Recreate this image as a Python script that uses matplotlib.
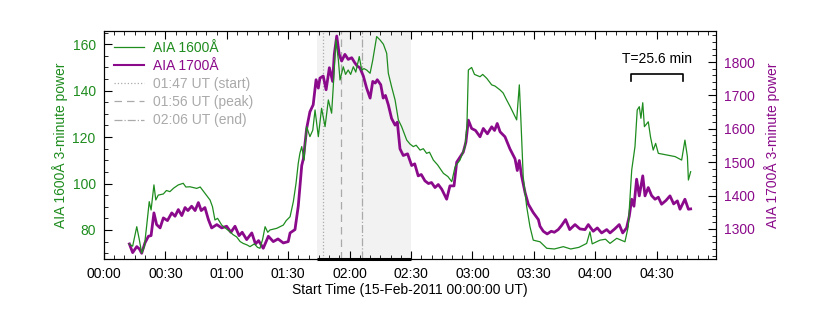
import matplotlib
matplotlib.use("Agg")
import matplotlib.pyplot as plt
from matplotlib.ticker import MultipleLocator, FuncFormatter
from matplotlib.lines import Line2D

plt.rcParams['font.family'] = ['Liberation Sans', 'DejaVu Sans']
plt.rcParams['font.size'] = 10

GREEN = '#1e8c1e'
PURPLE = '#8b0a8b'
GRAY = '#aaaaaa'

# minutes after 15-Feb-2011 00:00 UT
t1600 = [12.4, 14, 16, 17.3, 18.4, 19.7, 20.8, 22.1, 23, 24.4, 25.3, 26.5, 29, 30.5,
         32.2, 34, 36.3, 38.7, 40, 42, 45.3, 47, 49.3, 51.8, 53, 54.2, 55.5, 57.5,
         59, 61.6, 63, 64.8, 66.5, 68, 70, 71.3, 73.5, 75, 76.2, 77.5, 78.7, 80,
         81.1, 84.4, 87.6, 89, 90.9, 92.5, 93.8, 94.9, 95.7, 96.6, 97.7, 99, 100.6,
         102, 103.1, 104.7, 106.3, 108, 109.6, 111.2, 112, 113.3, 114.5, 115.3,
         116.9, 118, 119.3, 120.5, 121.8, 123, 124.7, 125.9, 127, 128.3, 130, 131.3,
         133.2, 134.8, 136.5, 138.1, 138.9, 140.5, 142.2, 143.8, 145.4, 146.5,
         147.9, 149.5, 151.1, 152.5, 154.4, 156, 157.6, 159, 160.9, 163, 165.8,
         168, 169.9, 171.5, 173.9, 176.4, 177.3, 178, 179.6, 181, 183.7, 185, 187,
         189.4, 191, 193.5, 195, 196.7, 198.5, 200, 201.6, 202.9, 203.6, 204.8,
         206.5, 208.1, 209.7, 213, 216.3, 220, 224.4, 228, 232, 235.8, 237.4,
         238.5, 242.3, 245, 247.2, 250.5, 254.5, 256.1, 257.8, 259.4, 260.5, 261.5,
         262.3, 263.2, 264, 265.9, 267, 268.3, 269.5, 270.8, 274.9, 279, 282.2,
         283.8, 285, 285.5, 286.6]
p1600 = [73.9, 73, 81.4, 75.6, 70, 72.8, 81.4, 92.2, 88.6, 99.4, 92.9, 95, 95.5, 97,
         96.5, 98, 99.4, 100.1, 98.5, 98.6, 97.9, 98.5, 95.8, 92.9, 90, 84.3, 85, 82.1,
         81, 79.2, 78, 77, 75, 74.2, 73.5, 72.8, 74, 72.5, 72.1, 76, 81.4, 79,
         80, 80.7, 82.1, 84, 85.7, 92.2, 100, 108.7, 113, 115.9, 110.1, 124.5, 120.2,
         123, 131.7, 120.2, 132.4, 124.5, 136, 130.3, 141.7, 161.9, 153.2, 144.6,
         150.3, 147, 148.9, 147, 150.3, 148, 154.7, 148.9, 149.5, 148.9, 147.5, 153.2,
         163.3, 161.9, 160, 156.1, 147.5, 141.7, 136, 127.4, 124.5, 122,
         118.7, 117, 115.9, 116.5, 114.4, 115, 113, 113.5, 110.1, 108, 104.4,
         103, 100.8, 107.2, 110.1, 115.9, 125, 148.9, 150, 147, 146, 147, 145.3,
         142.5, 142, 140.3, 139, 136, 133, 130.3, 127.4, 142.5, 128.8, 102.9,
         90, 81.4, 75.6, 74.9, 72.1, 71.8, 72.8, 71.8, 72.5, 74.2, 79.2,
         74, 75.6, 76, 74.2, 76.4, 74.9, 81.4, 105.8, 115.9, 131.7, 133.1,
         128.1, 134.8, 124.5, 126.6, 120, 114.4, 117.3, 113, 112.3, 111.6, 110.1,
         118.7, 111.6, 101.5, 105.1]

t1700 = [12.4, 14, 16, 17.3, 18.4, 20, 21.7, 23, 24.4, 25.7, 27.4, 29, 31, 33.1, 34.7,
         36.3, 38, 39.6, 41, 42.8, 44.5, 46.1, 47.5, 49.3, 51, 52.6, 55.1, 57.5, 59.9,
         62, 64, 66, 67.5, 69.7, 72.2, 74, 75.5, 77.8, 80.3, 82.7, 85, 87.6, 90, 90.9,
         93.3, 94.9, 96.6, 97.4, 99, 100.6, 102.2, 103.6, 104.7, 105.5, 107.1, 108.5,
         110.1, 111.7, 112.5, 113.7, 114.9, 116.1, 117.7, 119.3, 121, 122.5, 123.7,
         125, 126.7, 128.3, 130, 131.3, 132.5, 133.5, 135.2, 136.4, 137.5, 138.9,
         140.5, 142.2, 143.3, 144.6, 146.2, 148.3, 150.3, 151.8, 153.5, 155, 156.8,
         158.5, 160, 161.7, 163.3, 165, 167.4, 169, 171, 172.3, 173.9, 175.5, 176.8,
         178, 179.6, 181.5, 183.7, 185.3, 187.3, 189.4, 190.8, 192.1, 193.5, 195.9,
         198.3, 200.8, 201.9, 202.9, 204, 205.7, 207.3, 209.7, 212.2, 213, 214.6,
         216.5, 218.5, 220, 221.9, 223.5, 225.5, 227.5, 230.1, 232.5, 235, 236.6,
         239, 241, 243.1, 245.6, 247.2, 249.5, 251.7, 253.4, 255.3, 256.6, 257.8,
         258.9, 260.2, 261.5, 263.2, 264.3, 265.9, 267.5, 269.2, 270.8, 272.4,
         274.5, 276.5, 278.3, 280.1, 281.4, 283.8, 285.5, 286.6]
p1700 = [1255, 1229, 1247, 1240, 1227, 1258, 1278, 1280, 1348, 1313, 1303, 1333, 1325,
         1348, 1338, 1358, 1340, 1364, 1355, 1368, 1355, 1379, 1355, 1364, 1328, 1303,
         1313, 1303, 1308, 1290, 1308, 1280, 1290, 1268, 1288, 1255, 1265, 1242, 1278,
         1262, 1270, 1258, 1262, 1288, 1298, 1368, 1490, 1510, 1601, 1651, 1672, 1747,
         1722, 1752, 1758, 1717, 1783, 1742, 1823, 1878, 1823, 1803, 1823, 1808, 1813,
         1798, 1788, 1783, 1758, 1722, 1692, 1742, 1737, 1747, 1732, 1692, 1700, 1672,
         1631, 1611, 1620, 1540, 1520, 1525, 1490, 1495, 1459, 1463, 1444, 1436, 1439,
         1424, 1433, 1419, 1389, 1429, 1429, 1500, 1515, 1530, 1560, 1626, 1601, 1595,
         1576, 1601, 1585, 1606, 1595, 1616, 1591, 1576, 1540, 1510, 1475, 1505, 1459,
         1409, 1374, 1349, 1328, 1308, 1293, 1285, 1293, 1290, 1298, 1310, 1328, 1298,
         1313, 1300, 1298, 1313, 1293, 1303, 1288, 1298, 1288, 1300, 1313, 1288, 1303,
         1338, 1389, 1368, 1449, 1399, 1459, 1399, 1424, 1400, 1389, 1395, 1374, 1385,
         1399, 1375, 1384, 1359, 1389, 1359, 1360]

flare_span = (104, 150)
flare_times = [107, 116, 126]
flare_labels = ['01:47 UT (start)', '01:56 UT (peak)', '02:06 UT (end)']
flare_styles = [':', (0, (6, 4)), '-.']
period = (257.5, 283.1)
period_label = 'T=25.6 min'


def hhmm(x, pos=None):
    return f"{int(x // 60):02d}:{int(round(x % 60)):02d}"


fig = plt.figure(figsize=(8.3, 3.12), dpi=100)
ax = fig.add_axes([0.1253, 0.170, 0.7374, 0.7306])
ax2 = ax.twinx()
ax.set_zorder(ax2.get_zorder() + 1)
ax.patch.set_visible(False)

# flare interval, drawn under both curves
ax2.axvspan(*flare_span, color='#f2f2f2', lw=0, zorder=0)
for x, ls in zip(flare_times, flare_styles):
    ax2.axvline(x, color=GRAY, lw=0.9, ls=ls, zorder=1)
ax2.plot(flare_span, [1210, 1210], color='k', lw=2.2, zorder=3, clip_on=False,
         solid_capstyle='butt')

ax2.plot(t1700, p1700, color=PURPLE, lw=2.0, zorder=2)
ax.plot(t1600, p1600, color=GREEN, lw=0.9)

ax.set_xlim(0, 299)
ax.set_ylim(67.5, 165.7)
ax2.set_ylim(1210, 1893)

ax.xaxis.set_major_locator(MultipleLocator(30))
ax.xaxis.set_minor_locator(MultipleLocator(5))
ax.xaxis.set_major_formatter(FuncFormatter(hhmm))
ax.yaxis.set_major_locator(MultipleLocator(20))
ax.yaxis.set_minor_locator(MultipleLocator(5))
ax2.yaxis.set_major_locator(MultipleLocator(100))
ax2.yaxis.set_minor_locator(MultipleLocator(20))

ax.tick_params(axis='x', which='both', direction='in', top=True, colors='k')
ax.tick_params(axis='x', which='major', length=6)
ax.tick_params(axis='x', which='minor', length=3)
ax.tick_params(axis='y', which='both', direction='in', colors='k', labelcolor=GREEN)
ax.tick_params(axis='y', which='major', length=6)
ax.tick_params(axis='y', which='minor', length=3)
ax2.tick_params(axis='y', which='both', direction='in', colors='k', labelcolor=PURPLE)
ax2.tick_params(axis='y', which='major', length=6)
ax2.tick_params(axis='y', which='minor', length=3)
ax.tick_params(axis='both', pad=6)
ax2.tick_params(axis='y', pad=6)

ax.set_xlabel('Start Time (15-Feb-2011 00:00:00 UT)', labelpad=1)
ax.set_ylabel('AIA 1600Å 3-minute power', color=GREEN, labelpad=3)
ax2.set_ylabel('AIA 1700Å 3-minute power', color=PURPLE, labelpad=6)

# period bracket
ax.plot([period[0], period[0], period[1], period[1]], [144.3, 147.1, 147.1, 144.3],
        color='k', lw=1.2)
ax.text(sum(period) / 2, 150.5, period_label, ha='center', va='bottom')

handles = [Line2D([], [], color=GREEN, lw=0.9),
           Line2D([], [], color=PURPLE, lw=1.5)]
handles += [Line2D([], [], color=GRAY, lw=0.9, ls=ls) for ls in flare_styles]
labels = ['AIA 1600Å', 'AIA 1700Å'] + flare_labels
leg = ax.legend(handles, labels, loc='upper left', frameon=False, handlelength=2.2,
                handletextpad=0.6, labelspacing=0.3, borderaxespad=0.3)
for txt, c in zip(leg.get_texts(), [GREEN, PURPLE, GRAY, GRAY, GRAY]):
    txt.set_color(c)

fig.savefig('out.png', dpi=100)
